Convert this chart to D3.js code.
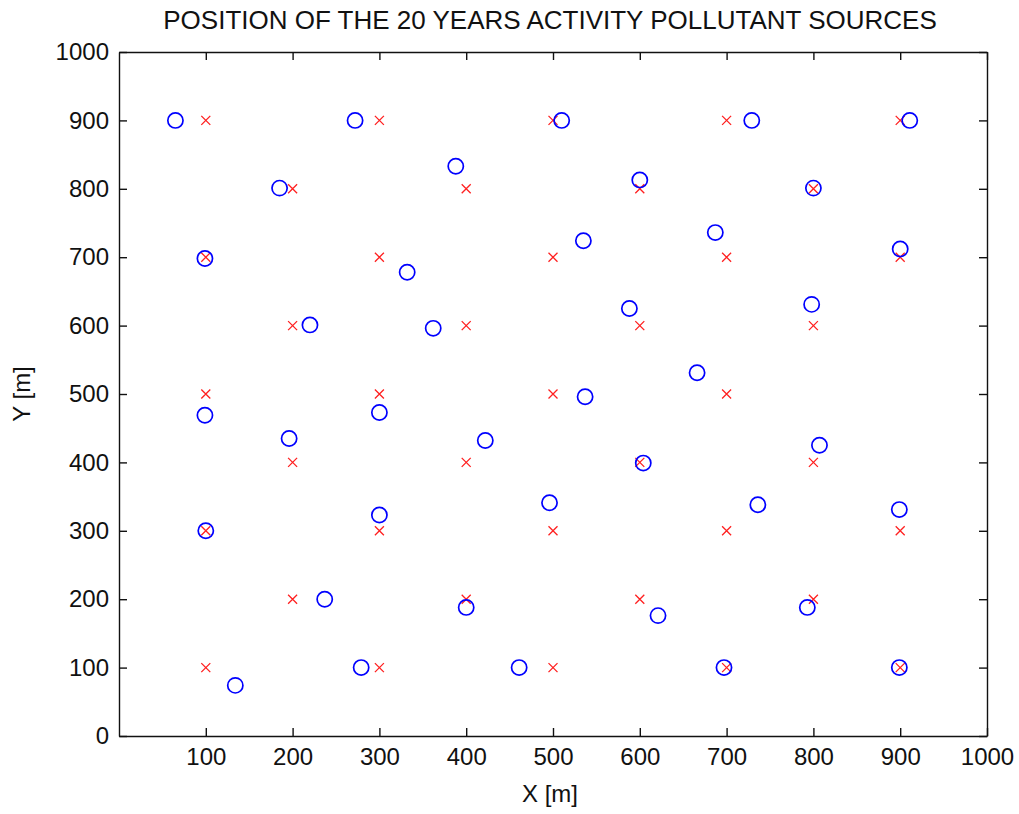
<!DOCTYPE html>
<html>
<head>
<meta charset="utf-8">
<script src="https://cdn.jsdelivr.net/npm/d3@7"></script>
<style>
  body { margin: 0; background: #fff; }
  svg text { font-family: 'Liberation Sans', Arial, sans-serif; fill: #111; }
</style>
</head>
<body>
<svg id="chart" width="1019" height="814"></svg>
<script>
// nominal source grid (red crosses)
const gridX = [100, 300, 500, 700, 900,
  200, 400, 600, 800,
  100, 300, 500, 700, 900,
  200, 400, 600, 800,
  100, 300, 500, 700,
  200, 400, 600, 800,
  100, 300, 500, 700, 900,
  200, 400, 600, 800,
  100, 300, 500, 700, 900];
const gridY = [900, 900, 900, 900, 900,
  800, 800, 800, 800,
  700, 700, 700, 700, 700,
  600, 600, 600, 600,
  500, 500, 500, 500,
  400, 400, 400, 400,
  300, 300, 300, 300, 300,
  200, 200, 200, 200,
  100, 100, 100, 100, 100];

// 20 years activity positions (blue circles)
const actX = [65, 272, 510, 729, 911,
  185, 388, 600, 800,
  99, 332, 535, 687, 900,
  220, 362, 588, 798, 666,
  99, 300, 537,
  196, 422, 604, 807,
  496, 736, 100, 300, 899,
  237, 400, 621, 793,
  279, 461, 697, 899, 134];
const actY = [900, 900, 900, 900, 900,
  801, 833, 813, 801,
  698, 678, 724, 736, 712,
  601, 596, 625, 631, 531,
  469, 473, 496,
  435, 432, 399, 425,
  341, 338, 300, 323, 331,
  200, 188, 176, 188,
  100, 100, 100, 100, 74];

const xTicks = [100, 200, 300, 400, 500, 600, 700, 800, 900, 1000];
const yTicks = [0, 100, 200, 300, 400, 500, 600, 700, 800, 900, 1000];

const svg = d3.select('#chart');
const plotL = 119, plotR = 987, plotT = 52, plotB = 736;

const x = d3.scaleLinear().domain([0, 1000]).range([plotL, plotR]);
const y = d3.scaleLinear().domain([0, 1000]).range([plotB, plotT]);
const fmt = d3.format('d');

// axes, MATLAB style box with inward ticks
const axes = svg.append('g');
axes.append('g')
  .attr('transform', `translate(0,${plotB})`)
  .call(d3.axisBottom(x).tickValues(xTicks).tickFormat(fmt).tickSizeInner(-8).tickSizeOuter(0).tickPadding(12));
axes.append('g')
  .attr('transform', `translate(0,${plotT})`)
  .call(d3.axisTop(x).tickValues(xTicks).tickSizeInner(-8).tickSizeOuter(0).tickFormat(''));
axes.append('g')
  .attr('transform', `translate(${plotL},0)`)
  .call(d3.axisLeft(y).tickValues(yTicks).tickFormat(fmt).tickSizeInner(-8).tickSizeOuter(0).tickPadding(10));
axes.append('g')
  .attr('transform', `translate(${plotR},0)`)
  .call(d3.axisRight(y).tickValues(yTicks).tickSizeInner(-8).tickSizeOuter(0).tickFormat(''));

axes.selectAll('.domain').attr('stroke', '#111').attr('stroke-width', 1.4);
axes.selectAll('.tick line').attr('stroke', '#111').attr('stroke-width', 1.4);
axes.selectAll('.tick text')
  .style('font-size', '24px')
  .style('font-family', "'Liberation Sans', Arial, sans-serif")
  .attr('fill', '#111');

// red crosses
const plot = svg.append('g');
const h = 4.5;
plot.selectAll('path.cross')
  .data(d3.range(gridX.length))
  .join('path')
  .attr('class', 'cross')
  .attr('d', i => {
    const cx = x(gridX[i]), cy = y(gridY[i]);
    return `M${cx - h},${cy - h}L${cx + h},${cy + h}M${cx - h},${cy + h}L${cx + h},${cy - h}`;
  })
  .attr('fill', 'none')
  .attr('stroke', '#ff2020')
  .attr('stroke-width', 1.3);

// blue circles
plot.selectAll('circle')
  .data(d3.range(actX.length))
  .join('circle')
  .attr('cx', i => x(actX[i]))
  .attr('cy', i => y(actY[i]))
  .attr('r', 7.6)
  .attr('fill', 'none')
  .attr('stroke', '#0000ff')
  .attr('stroke-width', 1.7);

// labels
svg.append('text')
  .attr('x', (plotL + plotR) / 2 - 3)
  .attr('y', 29)
  .attr('text-anchor', 'middle')
  .style('font-size', '26px')
  .text('POSITION OF THE 20 YEARS ACTIVITY POLLUTANT SOURCES');

svg.append('text')
  .attr('x', (plotL + plotR) / 2 - 3)
  .attr('y', 802)
  .attr('text-anchor', 'middle')
  .style('font-size', '24px')
  .text('X [m]');

svg.append('text')
  .attr('transform', `translate(30,${(plotT + plotB) / 2}) rotate(-90)`)
  .attr('text-anchor', 'middle')
  .style('font-size', '24px')
  .text('Y [m]');
</script>
</body>
</html>
